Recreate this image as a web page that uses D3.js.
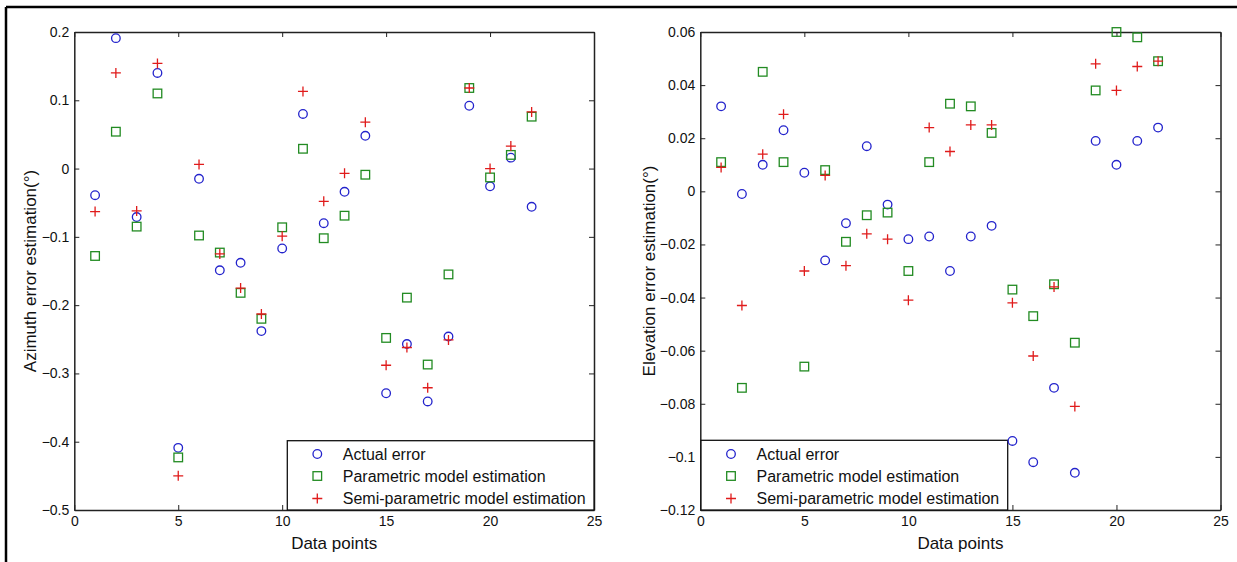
<!DOCTYPE html>
<html>
<head>
<meta charset="utf-8">
<script src="https://cdn.jsdelivr.net/npm/d3@7"></script>
<style>
  body { margin: 0; background: #fff; }
  svg { display: block; font-family: "Liberation Sans", Arial, sans-serif; }
  .axis path, .axis line { stroke: #222; }
  .axis text { fill: #111; font-size: 14px; }
</style>
</head>
<body>
<div class="svg-container"></div>
<script>
// data points 1..22
var pointIds = d3.range(1, 23);

var xTicks = [0, 5, 10, 15, 20, 25];
var azTicks = [0.2, 0.1, 0, -0.1, -0.2, -0.3, -0.4, -0.5];
var elTicks = [0.06, 0.04, 0.02, 0, -0.02, -0.04, -0.06, -0.08, -0.1, -0.12];

// azimuth (left panel)
var azActual = [-0.039, 0.191, -0.071, 0.140, -0.409, -0.015, -0.149, -0.138, -0.238, -0.117, 0.080,
                -0.080, -0.034, 0.048, -0.329, -0.257, -0.341, -0.246, 0.092, -0.026, 0.016, -0.056];
var azParam  = [-0.128, 0.054, -0.085, 0.110, -0.423, -0.098, -0.123, -0.182, -0.220, -0.086, 0.029,
                -0.102, -0.069, -0.009, -0.248, -0.189, -0.287, -0.155, 0.118, -0.013, 0.020, 0.076];
var azSemi   = [-0.063, 0.140, -0.062, 0.154, -0.450, 0.006, -0.125, -0.175, -0.213, -0.099, 0.113,
                -0.048, -0.007, 0.068, -0.288, -0.262, -0.321, -0.251, 0.118, 0.000, 0.033, 0.083];

// elevation (right panel)
var elActual = [0.032, -0.001, 0.010, 0.023, 0.007, -0.026, -0.012, 0.017, -0.005, -0.018, -0.017,
                -0.030, -0.017, -0.013, -0.094, -0.102, -0.074, -0.106, 0.019, 0.010, 0.019, 0.024];
var elParam  = [0.011, -0.074, 0.045, 0.011, -0.066, 0.008, -0.019, -0.009, -0.008, -0.030, 0.011,
                0.033, 0.032, 0.022, -0.037, -0.047, -0.035, -0.057, 0.038, 0.060, 0.058, 0.049];
var elSemi   = [0.009, -0.043, 0.014, 0.029, -0.030, 0.006, -0.028, -0.016, -0.018, -0.041, 0.024,
                0.015, 0.025, 0.025, -0.042, -0.062, -0.036, -0.081, 0.048, 0.038, 0.047, 0.049];

var legendLabels = ["Actual error", "Parametric model estimation", "Semi-parametric model estimation"];

var colors = { circle: "#2323cc", square: "#228b22", plus: "#e01b1b" };

var svgWidth = 1237, svgHeight = 562;
var svg = d3.select(".svg-container").append("svg")
  .attr("width", svgWidth)
  .attr("height", svgHeight);

// outer frame (top and left edges only are visible in the figure)
svg.append("line").attr("x1", 6).attr("y1", 7).attr("x2", svgWidth).attr("y2", 7)
  .attr("stroke", "#000").attr("stroke-width", 2.5);
svg.append("line").attr("x1", 6).attr("y1", 7).attr("x2", 6).attr("y2", svgHeight)
  .attr("stroke", "#000").attr("stroke-width", 2.5);

function drawMarker(g, type, cx, cy) {
  if (type === "circle") {
    g.append("circle").attr("cx", cx).attr("cy", cy).attr("r", 4.3)
      .attr("fill", "none").attr("stroke", colors.circle).attr("stroke-width", 1.3);
  } else if (type === "square") {
    g.append("rect").attr("x", cx - 4.3).attr("y", cy - 4.3).attr("width", 8.6).attr("height", 8.6)
      .attr("fill", "none").attr("stroke", colors.square).attr("stroke-width", 1.3);
  } else {
    g.append("path").attr("d", "M" + (cx - 5) + "," + cy + "H" + (cx + 5) + "M" + cx + "," + (cy - 5) + "V" + (cy + 5))
      .attr("fill", "none").attr("stroke", colors.plus).attr("stroke-width", 1.3);
  }
}

function makePanel(opt) {
  var x = d3.scaleLinear().domain([0, 25]).range([opt.left, opt.right]);
  var y = d3.scaleLinear().domain([opt.yTicks[opt.yTicks.length - 1], opt.yTicks[0]]).range([opt.bottom, opt.top]);
  var fmt = function(d) { return d === 0 ? "0" : d3.format("")(+d.toFixed(2)); };

  // axes with inward ticks, MATLAB style box
  svg.append("g").attr("class", "axis").attr("transform", "translate(0," + opt.bottom + ")")
    .call(d3.axisBottom(x).tickValues(xTicks).tickSizeInner(-5).tickSizeOuter(0).tickPadding(6));
  svg.append("g").attr("class", "axis").attr("transform", "translate(0," + opt.top + ")")
    .call(d3.axisTop(x).tickValues(xTicks).tickSizeInner(-5).tickSizeOuter(0).tickFormat(""));
  svg.append("g").attr("class", "axis").attr("transform", "translate(" + opt.left + ",0)")
    .call(d3.axisLeft(y).tickValues(opt.yTicks).tickSizeInner(-5).tickSizeOuter(0).tickPadding(5).tickFormat(fmt));
  svg.append("g").attr("class", "axis").attr("transform", "translate(" + opt.right + ",0)")
    .call(d3.axisRight(y).tickValues(opt.yTicks).tickSizeInner(-5).tickSizeOuter(0).tickFormat(""));
  svg.selectAll(".axis path").attr("stroke-width", 1.5);

  svg.append("text")
    .attr("x", (opt.left + opt.right) / 2).attr("y", 549)
    .attr("text-anchor", "middle").attr("font-size", 17).attr("fill", "#111")
    .text("Data points");
  svg.append("text")
    .attr("transform", "translate(" + opt.yLabelX + "," + ((opt.top + opt.bottom) / 2) + ") rotate(-90)")
    .attr("text-anchor", "middle").attr("dy", "0.35em").attr("font-size", 17).attr("fill", "#111")
    .text(opt.yLabel);

  // legend
  var lg = svg.append("g");
  lg.append("rect")
    .attr("x", opt.legend.x).attr("y", opt.legend.y)
    .attr("width", opt.legend.w).attr("height", opt.bottom - opt.legend.y)
    .attr("fill", "#fff").attr("stroke", "#111").attr("stroke-width", 1.3);
  var types = ["circle", "square", "plus"];
  var rowY = [454, 476, 498.5];
  types.forEach(function(t, i) {
    drawMarker(lg, t, opt.legend.x + 30, rowY[i]);
    lg.append("text").attr("x", opt.legend.x + 55.5).attr("y", rowY[i]).attr("dy", "0.35em")
      .attr("font-size", 16).attr("fill", "#111").text(legendLabels[i]);
  });

  // points
  var pg = svg.append("g");
  var series = [["circle", opt.actual], ["square", opt.param], ["plus", opt.semi]];
  series.forEach(function(s) {
    pointIds.forEach(function(id, i) {
      drawMarker(pg, s[0], x(id), y(s[1][i]));
    });
  });
}

makePanel({
  left: 74.3, right: 594, top: 32, bottom: 510,
  yTicks: azTicks, yLabel: "Azimuth error estimation(\u00b0)", yLabelX: 30,
  actual: azActual, param: azParam, semi: azSemi,
  legend: { x: 287.3, y: 440.7, w: 594 - 287.3 }
});

makePanel({
  left: 700.3, right: 1220.5, top: 32, bottom: 510,
  yTicks: elTicks, yLabel: "Elevation error estimation(\u00b0)", yLabelX: 649,
  actual: elActual, param: elParam, semi: elSemi,
  legend: { x: 701, y: 440.3, w: 1007.7 - 701 }
});
</script>
</body>
</html>
